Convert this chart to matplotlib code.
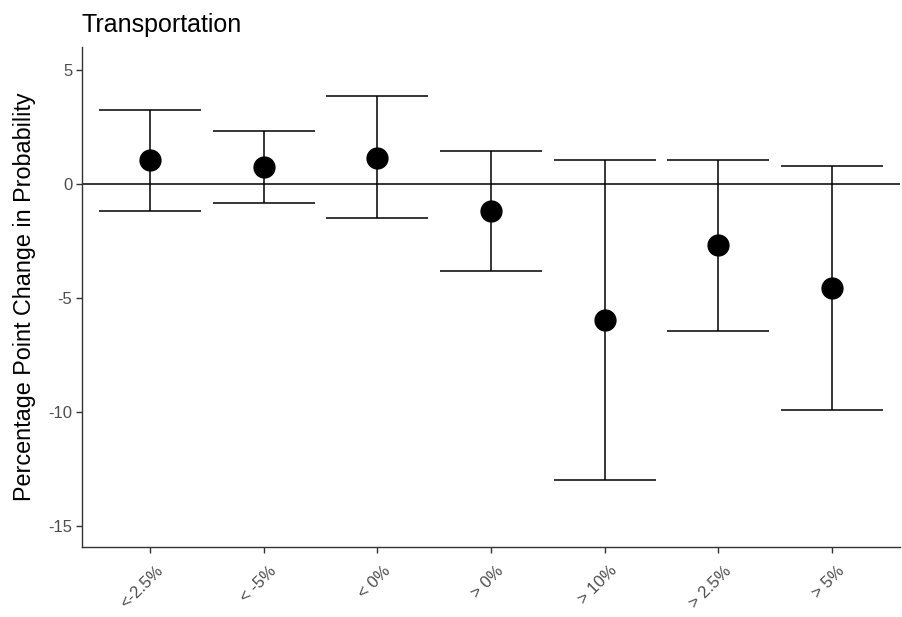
import matplotlib
matplotlib.use("Agg")
import matplotlib.pyplot as plt
import matplotlib.transforms as mtransforms
import numpy as np

plt.rcParams['font.family'] = ['Liberation Sans', 'DejaVu Sans']

categories = ["<-2.5%", "< -5%", "< 0%", "> 0%", "> 10%", "> 2.5%", "> 5%"]
estimates = [1.04, 0.72, 1.15, -1.18, -5.96, -2.68, -4.56]
lower = [-1.18, -0.82, -1.48, -3.82, -12.98, -6.45, -9.91]
upper = [3.26, 2.32, 3.83, 1.45, 1.05, 1.05, 0.79]

fig = plt.figure(figsize=(9.02, 6.17), dpi=100)
ax = fig.add_axes([82 / 902, 70 / 617, 818 / 902, 500 / 617])

x = np.arange(1, len(categories) + 1)
est = np.array(estimates)
lo = np.array(lower)
hi = np.array(upper)

ax.axhline(0, color="black", lw=1.1, zorder=1)
ax.errorbar(x, est, yerr=[est - lo, hi - est], fmt="none", ecolor="black",
            elinewidth=1.1, capsize=36.7, capthick=1.1, zorder=2)
ax.plot(x, est, "o", color="black", markersize=15, zorder=3)

ax.set_xlim(0.4, len(categories) + 0.6)
ax.set_ylim(-15.92, 6.0)
ax.set_yticks([5, 0, -5, -10, -15])
ax.set_yticklabels(["5", "0", "-5", "-10", "-15"])
ax.set_xticks(x)
ax.set_xticklabels([])

# rotated category labels, anchored at their top-right corner below each tick
offset = mtransforms.ScaledTranslation(5 / 100, -16 / 100, fig.dpi_scale_trans)
for xi, cat in zip(x, categories):
    ax.text(xi, 0, cat, transform=ax.get_xaxis_transform() + offset,
            rotation=45, ha="right", va="top", rotation_mode="anchor",
            fontsize=12, color="#4D4D4D")

for s in ["top", "right"]:
    ax.spines[s].set_visible(False)
for s in ["left", "bottom"]:
    ax.spines[s].set_color("#333333")
    ax.spines[s].set_linewidth(1.0)

ax.tick_params(axis="both", colors="#333333", labelcolor="#4D4D4D",
               labelsize=12, length=4, width=1.0)
ax.tick_params(axis="y", pad=3)
ax.set_ylabel("Percentage Point Change in Probability", fontsize=16.8,
              color="black", labelpad=9)
ax.set_title("Transportation", loc="left", fontsize=18, color="black", pad=11)

fig.savefig("out.png", dpi=100)
